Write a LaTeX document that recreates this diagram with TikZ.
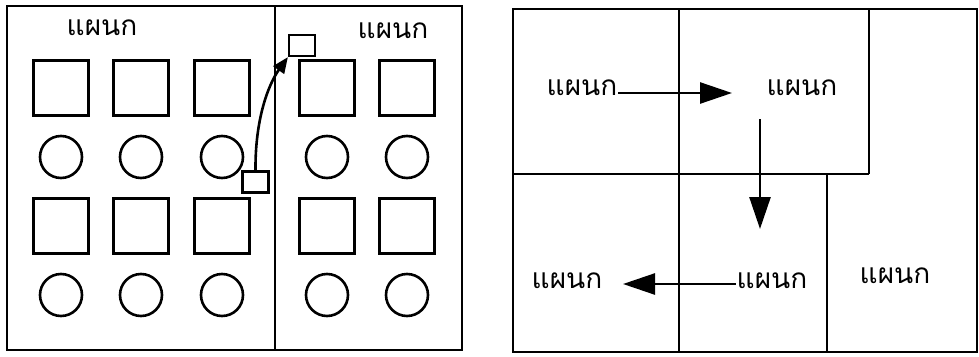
\documentclass[tikz,border=0pt]{standalone}
\usepackage{fontspec}
\newfontfamily\thaifont[Script=Thai]{Loma}
\usetikzlibrary{arrows.meta}
\begin{document}
\begin{tikzpicture}[x=1pt,y=-1pt,
  sq/.style={draw,line width=2.6pt,minimum size=55pt,inner sep=0pt},
  ci/.style={draw,circle,line width=2.6pt,minimum size=42pt,inner sep=0pt},
  sm/.style={draw,line width=2.2pt,minimum width=26pt,minimum height=21pt,inner sep=0pt},
  lbl/.style={font=\thaifont\fontsize{28}{30}\selectfont,inner sep=1pt},
  wall/.style={line width=2.8pt},
  arr/.style={line width=2.6pt,-{Triangle[length=32pt,width=21pt]}},
  carr/.style={line width=2.6pt,-{Triangle[length=16pt,width=13pt]}}]
\useasboundingbox (0,0) rectangle (979,356);
% left panel
\draw[wall] (7,6) rectangle (462,350);
\draw[wall] (275,6) -- (275,350);
\node[lbl] (L1) at (102,28) {แผนก};
\node[lbl] (L2) at (393,31) {แผนก};
\foreach \x/\n in {61/a,141/b,222/c,327/d,407/e}{
  \node[sq] (s1\n) at (\x,88) {};
  \node[ci] (c1\n) at (\x,157) {};
  \node[sq] (s2\n) at (\x,226) {};
  \node[ci] (c2\n) at (\x,295) {};
}
\node[sm] (b1) at (255.5,182) {};
\node[sm] (b2) at (302,45.5) {};
\draw[carr] (b1.north) .. controls (255,120) and (268,85) .. (b2.south west);
% right panel
\draw[wall] (513,9) rectangle (977,352);
\draw[wall] (679,9) -- (679,352);
\draw[wall] (513,174) -- (869,174);
\draw[wall] (869,9) -- (869,174);
\draw[wall] (827,174) -- (827,352);
\node[lbl] (R1) at (582,88) {แผนก};
\node[lbl] (R2) at (802,88) {แผนก};
\node[lbl] (R3) at (567,281) {แผนก};
\node[lbl] (R4) at (772,281) {แผนก};
\node[lbl] (R5) at (895,276) {แผนก};
\coordinate (h1) at (732,93);
\coordinate (v1) at (760,119);
\coordinate (v2) at (760,229);
\coordinate (h2) at (623,284);
\draw[arr] (R1.east |- h1) -- (h1);
\draw[arr] (v1) -- (v2);
\draw[arr] (R4.west |- h2) -- (h2);
\end{tikzpicture}
\end{document}
